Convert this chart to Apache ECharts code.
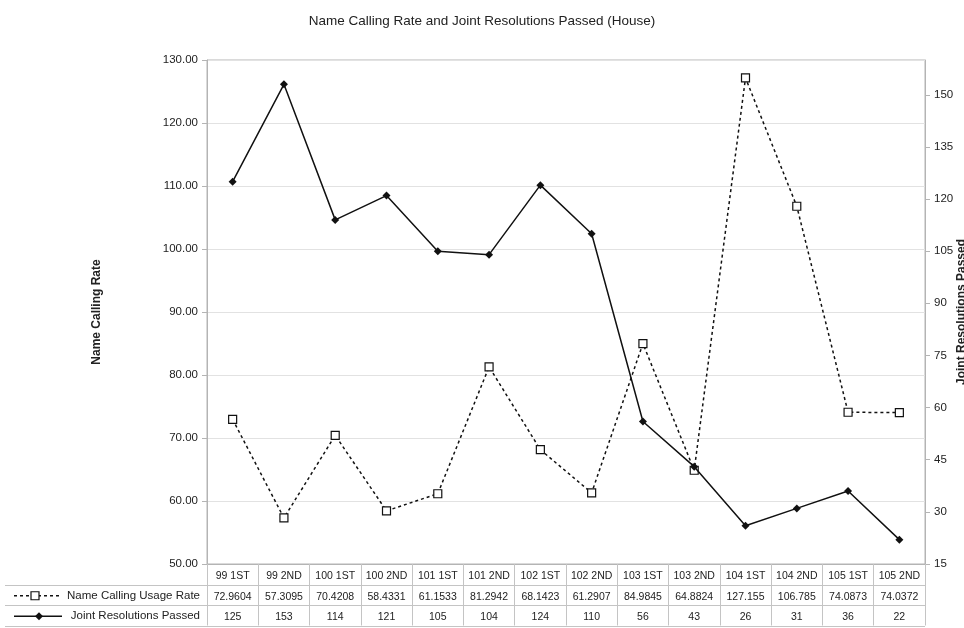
<!DOCTYPE html>
<html>
<head>
<meta charset="utf-8">
<script src="https://cdn.jsdelivr.net/npm/echarts@6/dist/echarts.min.js"></script>
<style>
  html, body { margin: 0; padding: 0; background: #fff; overflow: hidden; }
  #chart { width: 964px; height: 628px; display: block; }
</style>
</head>
<body>
<div id="chart"></div>
<script>
// Session labels along the category axis
const categories = ['99 1ST', '99 2ND', '100 1ST', '100 2ND', '101 1ST', '101 2ND', '102 1ST',
  '102 2ND', '103 1ST', '103 2ND', '104 1ST', '104 2ND', '105 1ST', '105 2ND'];

// Name calling usage rate per session (left axis)
const nameCallingRate = [72.9604, 57.3095, 70.4208, 58.4331, 61.1533, 81.2942, 68.1423,
  61.2907, 84.9845, 64.8824, 127.155, 106.785, 74.0873, 74.0372];

// Joint resolutions passed per session (right axis)
const jointResolutions = [125, 153, 114, 121, 105, 104, 124, 110, 56, 43, 26, 31, 36, 22];

const seriesNames = ['Name Calling Usage Rate', 'Joint Resolutions Passed'];

const FONT = '"Liberation Sans", Arial, sans-serif';
const GRID = { left: 207, right: 39, top: 60, bottom: 64 };
const W = 964, H = 628;
const plotBottom = H - GRID.bottom;
const plotRight = W - GRID.right;
const rowH = 20.5;

const chart = echarts.init(document.getElementById('chart'), null, { renderer: 'canvas', width: W, height: H });

// Horizontal rules of the data table under the plot
const tableRules = [1, 2, 3].map(function (r) {
  const y = Math.round(plotBottom + r * rowH) + 0.5;
  return {
    type: 'line', silent: true,
    shape: { x1: 5, y1: y, x2: plotRight, y2: y },
    style: { stroke: '#c4c4c4', lineWidth: 1 }
  };
});

// Legend keys in the table's first column
const row2y = plotBottom + rowH * 1.5 + 1;
const row3y = plotBottom + rowH * 2.5 + 1;
const legendKeys = [
  { type: 'line', silent: true, shape: { x1: 14, y1: row2y, x2: 62, y2: row2y },
    style: { stroke: '#111', lineWidth: 1.5, lineDash: [3, 3] } },
  { type: 'rect', silent: true, shape: { x: 31, y: row2y - 4, width: 8, height: 8 },
    style: { fill: '#fff', stroke: '#111', lineWidth: 1.2 } },
  { type: 'text', silent: true, style: { x: 200, y: row2y, text: seriesNames[0], align: 'right',
    verticalAlign: 'middle', font: '11.5px ' + FONT, fill: '#222' } },
  { type: 'line', silent: true, shape: { x1: 14, y1: row3y, x2: 62, y2: row3y },
    style: { stroke: '#111', lineWidth: 1.5 } },
  { type: 'polygon', silent: true,
    shape: { points: [[39, row3y - 4], [43, row3y], [39, row3y + 4], [35, row3y]] },
    style: { fill: '#111' } },
  { type: 'text', silent: true, style: { x: 200, y: row3y, text: seriesNames[1], align: 'right',
    verticalAlign: 'middle', font: '11.5px ' + FONT, fill: '#222' } }
];

const option = {
  backgroundColor: '#fff',
  animation: false,
  title: {
    text: 'Name Calling Rate and Joint Resolutions Passed (House)',
    left: 'center', top: 9,
    textStyle: { fontFamily: FONT, fontSize: 13.5, fontWeight: 'normal', color: '#222' }
  },
  grid: {
    left: GRID.left, right: GRID.right, top: GRID.top, bottom: GRID.bottom,
    show: true, borderColor: '#b4b4b4', borderWidth: 1, containLabel: false,
    outerBoundsMode: 'none'
  },
  xAxis: {
    type: 'category',
    data: categories,
    boundaryGap: true,
    axisLine: { show: true, lineStyle: { color: '#b4b4b4', width: 1 } },
    axisTick: { show: true, interval: 0, length: rowH * 3, lineStyle: { color: '#c4c4c4' } },
    axisLabel: {
      interval: 0, margin: 2,
      fontFamily: FONT, fontSize: 10.5, color: '#222', lineHeight: rowH,
      formatter: function (v, i) {
        return v + '\n' + String(nameCallingRate[i]) + '\n' + String(jointResolutions[i]);
      }
    },
    splitLine: { show: false }
  },
  yAxis: [
    {
      type: 'value', position: 'left',
      min: 50, max: 130, interval: 10,
      name: 'Name Calling Rate', nameLocation: 'middle', nameGap: 104, nameRotate: 90,
      nameMoveOverlap: false,
      nameTextStyle: { fontFamily: FONT, fontSize: 12, fontWeight: 'bold', color: '#222' },
      axisLine: { show: true, lineStyle: { color: '#b4b4b4' } },
      axisTick: { show: true, length: 5, lineStyle: { color: '#b4b4b4' } },
      axisLabel: { margin: 9, fontFamily: FONT, fontSize: 11.5, color: '#222',
        formatter: function (v) { return v.toFixed(2); } },
      splitLine: { show: true, lineStyle: { color: '#e2e2e2', width: 1 } }
    },
    {
      type: 'value', position: 'right',
      min: 15, max: 160, interval: 15,
      name: 'Joint Resolutions Passed', nameLocation: 'middle', nameGap: 31, nameRotate: 90,
      nameMoveOverlap: false,
      nameTextStyle: { fontFamily: FONT, fontSize: 12, fontWeight: 'bold', color: '#222' },
      axisLine: { show: true, lineStyle: { color: '#b4b4b4' } },
      axisTick: { show: true, length: 5, lineStyle: { color: '#b4b4b4' } },
      axisLabel: { margin: 9, fontFamily: FONT, fontSize: 11.5, color: '#222', showMaxLabel: false,
        formatter: function (v) { return (v % 15 === 0) ? String(v) : ''; } },
      splitLine: { show: false }
    }
  ],
  series: [
    {
      name: seriesNames[0], type: 'line', yAxisIndex: 0,
      data: nameCallingRate,
      symbol: 'rect', symbolSize: 8,
      itemStyle: { color: '#fff', borderColor: '#111', borderWidth: 1.2 },
      lineStyle: { color: '#111', width: 1.5, type: [3, 3] },
      z: 3
    },
    {
      name: seriesNames[1], type: 'line', yAxisIndex: 1,
      data: jointResolutions,
      symbol: 'diamond', symbolSize: 8,
      itemStyle: { color: '#111' },
      lineStyle: { color: '#111', width: 1.5 },
      z: 4
    }
  ],
  graphic: tableRules.concat(legendKeys)
};

chart.setOption(option);
</script>
</body>
</html>
